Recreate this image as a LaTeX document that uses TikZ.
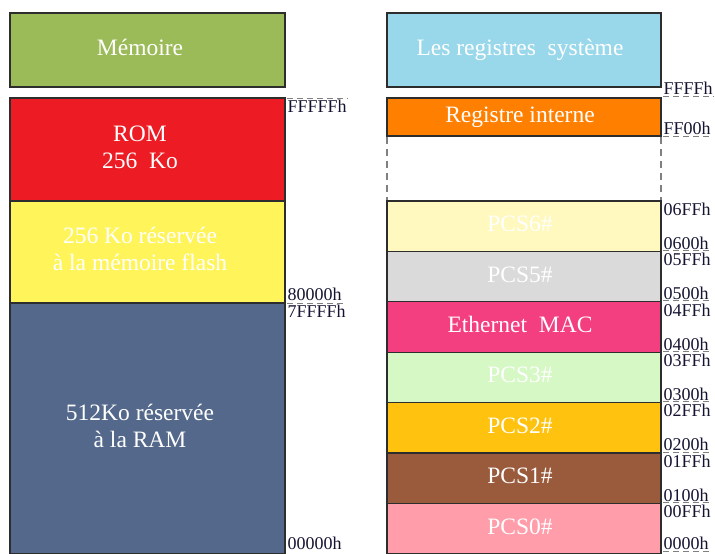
\documentclass[tikz,border=0pt]{standalone}
\usepackage{fontspec}
\setmainfont{Liberation Serif}
\definecolor{cGreen}{HTML}{9BBB59}
\definecolor{cRed}{HTML}{ED1C24}
\definecolor{cYellow}{HTML}{FFF55A}
\definecolor{cBlue}{HTML}{53688A}
\definecolor{cSky}{HTML}{99D8EA}
\definecolor{cOrange}{HTML}{FF8000}
\definecolor{cPcsSix}{HTML}{FFF9BF}
\definecolor{cPcsFive}{HTML}{DADADA}
\definecolor{cEth}{HTML}{F33E7F}
\definecolor{cPcsThree}{HTML}{D5F8C4}
\definecolor{cPcsTwo}{HTML}{FFC20E}
\definecolor{cPcsOne}{HTML}{9A5A3C}
\definecolor{cPcsZero}{HTML}{FF9DAA}
\definecolor{cEdge}{HTML}{2D2D2D}
\definecolor{cLabel}{HTML}{141432}
\newcommand{\lefttxt}[2][0pt]{\raisebox{#1}{\begin{tabular}{@{}c@{\hspace{15pt}}}#2\end{tabular}}}
\newcommand{\righttxt}[2][0pt]{\raisebox{#1}{\begin{tabular}{@{}c@{\hspace{8pt}}}#2\end{tabular}}}
\begin{document}
\begin{tikzpicture}[x=1pt,y=-1pt,
  memblock/.style={draw=cEdge, line width=1.2pt, rectangle, inner sep=0pt,
    text=white, align=center, font=\fontsize{23.5}{27}\selectfont},
  leftblock/.style={memblock, minimum width=275pt},
  rightblock/.style={memblock, minimum width=274pt},
  addr/.style={inner xsep=0.5pt, inner ysep=0pt, text height=12.5pt, text depth=0pt,
    text=cLabel, font=\fontsize{18}{19}\selectfont},
  addrtop/.style={addr, anchor=north west, yshift=-1.5pt},
  addrbot/.style={addr, anchor=south west},
  markline/.style={draw=gray, line width=0.9pt, dash pattern=on 6pt off 4pt},
  gapline/.style={draw=gray, line width=1.2pt, dash pattern=on 7pt off 5pt}]
\useasboundingbox (0,0) rectangle (715,554);
% left column
\node[leftblock, fill=cGreen, minimum height=74pt] (mem) at (147.5,50) {\lefttxt[3pt]{Mémoire}};
\node[leftblock, fill=cRed, minimum height=103pt] (rom) at (147.5,149.5) {\lefttxt[3pt]{ROM\\256~ Ko}};
\node[leftblock, fill=cYellow, minimum height=102pt] (flash) at (147.5,252) {\lefttxt[8pt]{256 Ko réservée\\à la mémoire flash}};
\node[leftblock, fill=cBlue, minimum height=251pt] (ram) at (147.5,428.5) {\lefttxt[12pt]{512Ko réservée\\à la RAM}};
% right column
\node[rightblock, fill=cSky, minimum height=74pt] (sys) at (524,50) {\righttxt[2pt]{Les registres~ système}};
\node[rightblock, fill=cOrange, minimum height=38pt] (regint) at (524,117) {\righttxt[2pt]{Registre interne}};
\coordinate (gapTL) at (387,137);
\coordinate (gapBL) at (387,201);
\coordinate (gapTR) at (661,137);
\coordinate (gapBR) at (661,201);
\draw[gapline] (gapTL) -- (gapBL);
\draw[gapline] (gapTR) -- (gapBR);
\node[rightblock, fill=cPcsSix, minimum height=50.4pt] (pcssix) at (524,226.2) {\righttxt[2pt]{PCS6\#}};
\node[rightblock, fill=cPcsFive, minimum height=50.4pt] (pcsfive) at (524,276.6) {\righttxt[2pt]{PCS5\#}};
\node[rightblock, fill=cEth, minimum height=50.4pt] (eth) at (524,327.0) {\righttxt[2pt]{Ethernet~ MAC}};
\node[rightblock, fill=cPcsThree, minimum height=50.4pt] (pcsthree) at (524,377.4) {\righttxt[2pt]{PCS3\#}};
\node[rightblock, fill=cPcsTwo, minimum height=50.4pt] (pcstwo) at (524,427.8) {\righttxt[2pt]{PCS2\#}};
\node[rightblock, fill=cPcsOne, minimum height=50.4pt] (pcsone) at (524,478.2) {\righttxt[2pt]{PCS1\#}};
\node[rightblock, fill=cPcsZero, minimum height=50.4pt] (pcszero) at (524,528.6) {\righttxt[2pt]{PCS0\#}};
% left addresses
\node[addrtop] (aFFFFF) at (287,98) {FFFFFh};
\node[addrbot] (a80000) at (287,301) {80000h};
\node[addrtop] (a7FFFF) at (287,303) {7FFFFh};
\node[addrbot] (a00000) at (287,550) {00000h};
% right addresses
\node[addrbot] (rFFFF) at (663,95) {FFFFh};
\node[addrbot] (rFF00) at (663,135) {FF00h};
\node[addrtop] (r06FF) at (663,201) {06FFh};
\node[addrbot] (r0600) at (663,249.4) {0600h};
\node[addrtop] (r05FF) at (663,251.4) {05FFh};
\node[addrbot] (r0500) at (663,299.8) {0500h};
\node[addrtop] (r04FF) at (663,301.8) {04FFh};
\node[addrbot] (r0400) at (663,350.2) {0400h};
\node[addrtop] (r03FF) at (663,352.2) {03FFh};
\node[addrbot] (r0300) at (663,400.6) {0300h};
\node[addrtop] (r02FF) at (663,402.6) {02FFh};
\node[addrbot] (r0200) at (663,451.0) {0200h};
\node[addrtop] (r01FF) at (663,453.0) {01FFh};
\node[addrbot] (r0100) at (663,501.4) {0100h};
\node[addrtop] (r00FF) at (663,503.4) {00FFh};
\node[addrbot] (r0000) at (663,550) {0000h};
% dashed marks at the boundaries
\draw[markline] ([yshift=1pt]aFFFFF.north west) -- ([yshift=1pt]aFFFFF.north east);
\draw[markline] ([yshift=1pt]a7FFFF.north west) -- ([yshift=1pt]a7FFFF.north east);
\draw[markline] ([yshift=-1pt]rFFFF.south west) -- ([yshift=-1pt]rFFFF.south east);
\draw[markline] ([yshift=-1pt]rFF00.south west) -- ([yshift=-1pt]rFF00.south east);
\foreach \n in {r0600,r0500,r0400,r0300,r0200,r0100,r0000}
  \draw[markline] ([yshift=-1pt]\n.south west) -- ([yshift=-1pt]\n.south east);
\end{tikzpicture}
\end{document}
